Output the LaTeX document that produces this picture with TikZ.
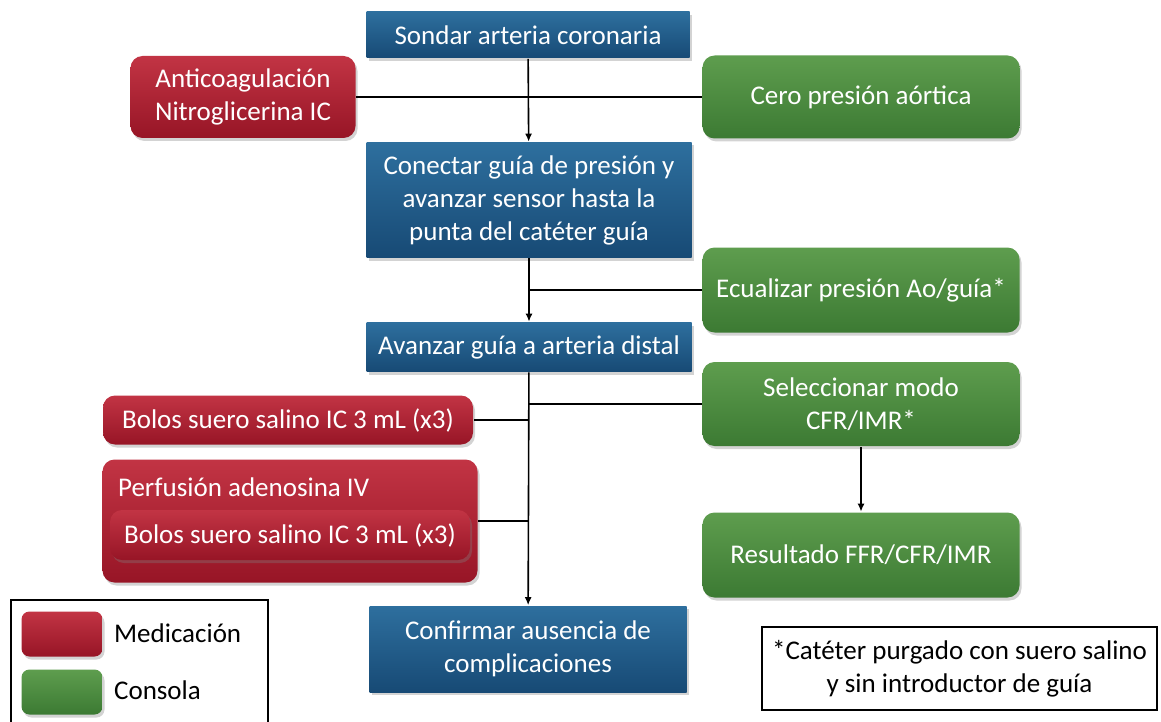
\documentclass[tikz,border=0pt]{standalone}
\usepackage{fontspec}
\setmainfont{Carlito}
\usetikzlibrary{shadows,arrows.meta}
\definecolor{azulclaro}{HTML}{2E6F9E}
\definecolor{azul}{HTML}{174A75}
\definecolor{rojoclaro}{HTML}{C23444}
\definecolor{rojo}{HTML}{971526}
\definecolor{verdeclaro}{HTML}{5E9D4E}
\definecolor{verde}{HTML}{3C7A33}
\tikzset{
  caja/.style={inner sep=0pt, align=center, text=white, font=\fontsize{27}{33}\selectfont,
    drop shadow={shadow xshift=2pt, shadow yshift=-3pt, opacity=.35}},
  paso/.style={caja, top color=azulclaro, bottom color=azul},
  medic/.style={caja, rounded corners=12pt, top color=rojoclaro, bottom color=rojo},
  consola/.style={caja, rounded corners=12pt, top color=verdeclaro, bottom color=verde},
  flecha/.style={-{Latex[length=8pt,width=7pt]}},
  nota/.style={draw, line width=1.4pt, align=center, inner sep=0pt, font=\fontsize{27}{33}\selectfont}
}
\begin{document}
\begin{tikzpicture}[x=1pt, y=-1pt, line width=1.6pt]
\useasboundingbox (0,0) rectangle (1161,722);
% pasos
\node[paso, minimum width=323pt, minimum height=46pt] (sondar) at (528,35) {Sondar arteria coronaria};
\node[paso, minimum width=325pt, minimum height=115pt] (conectar) at (529,200) {Conectar guía de presión y\\avanzar sensor hasta la\\punta del catéter guía};
\node[paso, minimum width=325pt, minimum height=49pt] (avanzar) at (529,347) {Avanzar guía a arteria distal};
\node[paso, minimum width=317pt, minimum height=86pt] (confirmar) at (528,649) {Confirmar ausencia de\\complicaciones};
% medicacion
\node[medic, minimum width=225pt, minimum height=82pt] (anticoag) at (243,97) {Anticoagulación\\Nitroglicerina IC};
\node[medic, minimum width=370pt, minimum height=49pt] (bolos) at (288,420) {Bolos suero salino IC 3 mL (x3)};
\node[medic, minimum width=375pt, minimum height=123pt] (perfusion) at (290,521) {};
\node[anchor=west, text=white, font=\fontsize{27}{33}\selectfont] (perftxt) at (114,487) {Perfusión adenosina IV};
\node[medic, minimum width=360pt, minimum height=50pt] (bolosdos) at (290,535) {Bolos suero salino IC 3 mL (x3)};
% consola
\node[consola, minimum width=317pt, minimum height=83pt] (cero) at (861,97) {Cero presión aórtica};
\node[consola, minimum width=317pt, minimum height=85pt] (ecualizar) at (861,290) {Ecualizar presión Ao/guía*};
\node[consola, minimum width=317pt, minimum height=84pt] (seleccionar) at (861,404) {Seleccionar modo\\CFR/IMR*};
\node[consola, minimum width=317pt, minimum height=85pt] (resultado) at (861,555) {Resultado FFR/CFR/IMR};
% conectores
\draw (anticoag) -- (cero);
\draw[flecha] (sondar) -- (conectar);
\draw (ecualizar.west) -- (ecualizar.west -| conectar.south);
\draw[flecha] (conectar) -- (avanzar);
\draw (seleccionar.west) -- (seleccionar.west -| avanzar.south);
\draw (bolos.east) -- (bolos.east -| avanzar.south);
\draw (perfusion.east) -- (perfusion.east -| avanzar.south);
\draw[flecha] (avanzar) -- (confirmar);
\draw[flecha] (seleccionar) -- (resultado);
% nota
\node[nota, minimum width=395pt, minimum height=83pt] (nota) at (959.5,668.5) {*Catéter purgado con suero salino\\y sin introductor de guía};
% leyenda
\draw[line width=1.4pt] (11,730) -- (11,600) -- (268,600) -- (268,730);
\node[medic, minimum width=81pt, minimum height=45pt, rounded corners=8pt] (legrojo) at (62,634) {};
\node[consola, minimum width=81pt, minimum height=45pt, rounded corners=8pt] (legverde) at (62,692) {};
\node[anchor=west, font=\fontsize{27}{33}\selectfont] (legmed) at (110,633) {Medicación};
\node[anchor=west, font=\fontsize{27}{33}\selectfont] (legcon) at (110,690) {Consola};
\end{tikzpicture}
\end{document}
